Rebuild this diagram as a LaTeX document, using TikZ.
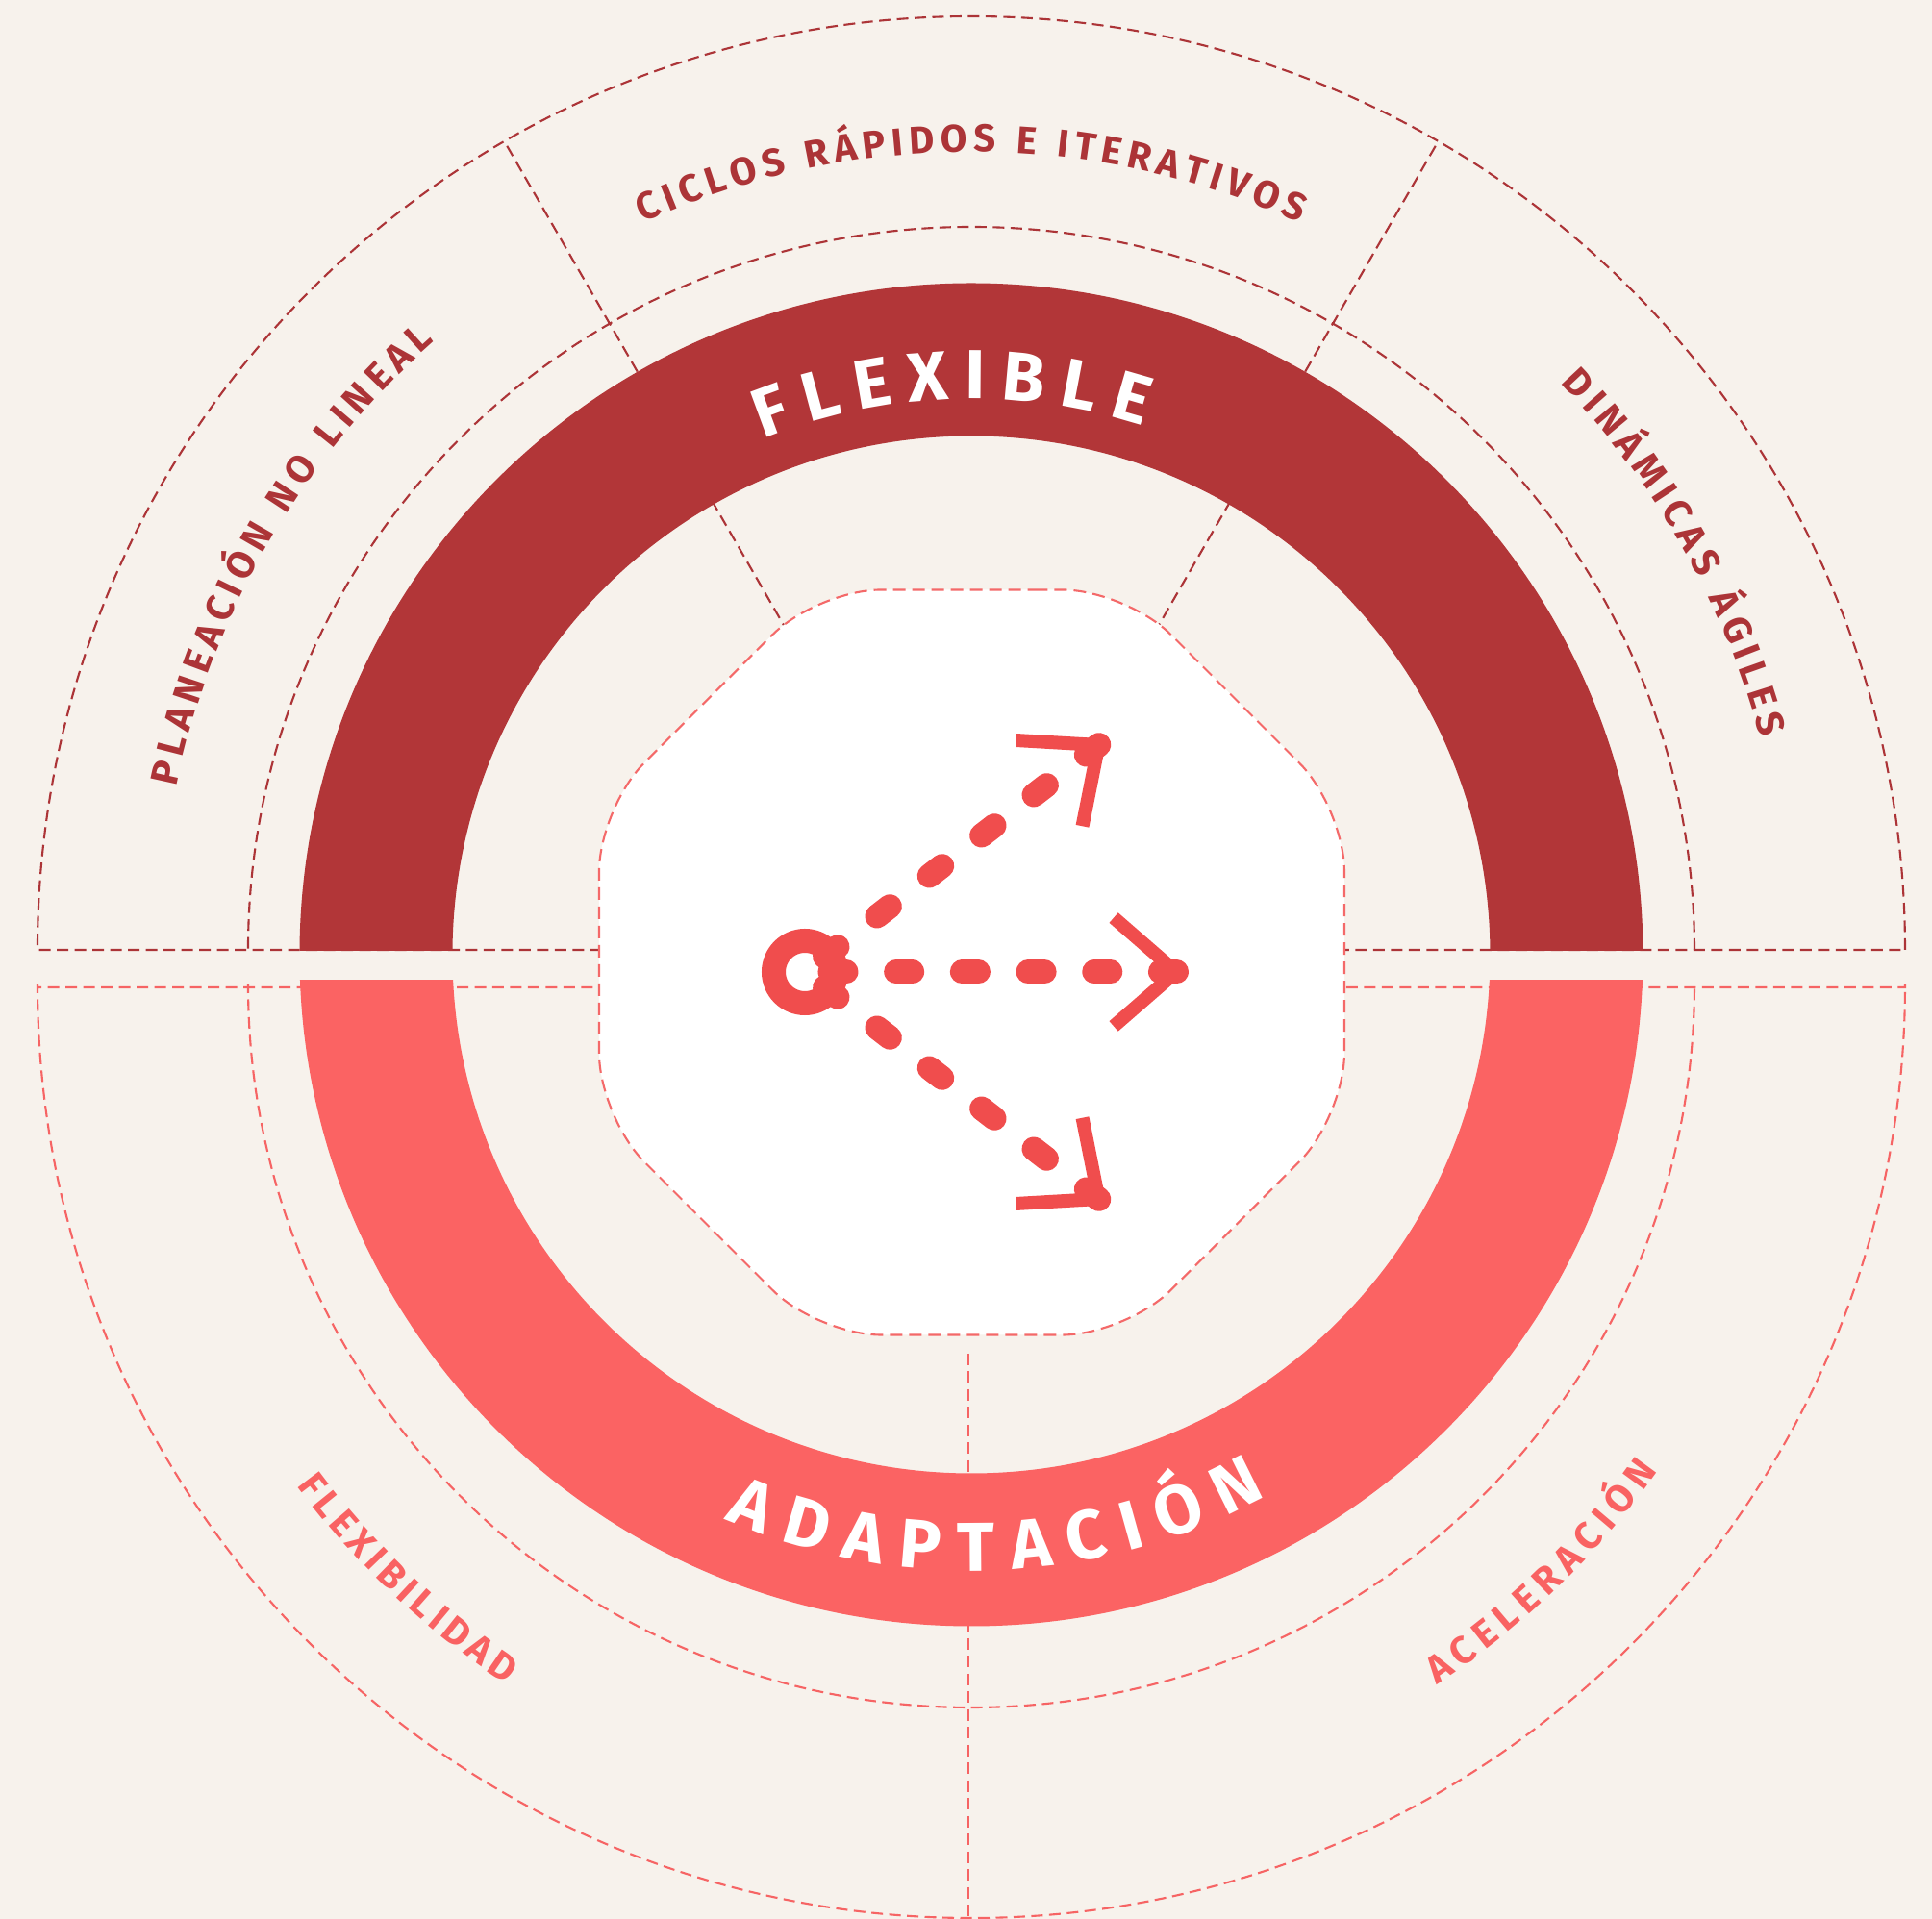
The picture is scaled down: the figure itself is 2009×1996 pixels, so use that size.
\documentclass[tikz,border=0pt]{standalone}
\usepackage{fontspec}
\newfontfamily\fsans{Fira Sans}
\usetikzlibrary{decorations.text,calc}
\definecolor{bgc}{RGB}{247,242,236}
\definecolor{darkr}{RGB}{178,54,56}
\definecolor{coral}{RGB}{251,99,99}
\definecolor{iconc}{RGB}{240,77,77}
\definecolor{dlin}{RGB}{172,52,55}
\definecolor{clin}{RGB}{246,100,100}
\definecolor{olin}{RGB}{244,105,105}
\definecolor{dlab}{RGB}{172,52,55}
\definecolor{clab}{RGB}{249,98,98}
\newcommand\bigfnt{\fsans\bfseries\fontsize{20.5pt}{24pt}\selectfont}
\newcommand\labfnt{\fsans\bfseries\fontsize{11.4pt}{13pt}\selectfont}
\begin{document}
\begin{tikzpicture}[x=0.1mm,y=0.1mm,
  thind/.style={draw=dlin, line width=0.6pt, dash pattern=on 1.2mm off 0.65mm},
  thinc/.style={draw=clin, line width=0.6pt, dash pattern=on 1.2mm off 0.65mm},
  octo/.style={draw=olin, fill=white, line width=0.6pt, dash pattern=on 1.3mm off 0.7mm, rounded corners=6.6mm},
  idash/.style={draw=iconc, line width=2.5mm, line cap=round, dash pattern=on 1.7mm off 5.17mm},
  chev/.style={draw=iconc, line width=1.4mm, line cap=butt, line join=miter},
  bigtxt/.style={decorate, decoration={text along path, text align=fit to path, text color=white, text={|\bigfnt|#1}}},
  labd/.style={decorate, decoration={text along path, text align=fit to path, text color=dlab, text={|\labfnt|#1}}},
  labc/.style={decorate, decoration={text along path, text align=fit to path, text color=clab, text={|\labfnt|#1}}}
]
% background and bounding box
\fill[bgc] (-1010,-1008) rectangle (999,988);
\useasboundingbox (-1010,-1008) rectangle (999,988);

% thin dashed guides, top half
\draw[thind] (971,0) arc[start angle=0,end angle=180,radius=971] -- cycle;
\draw[thind] (752,0) arc[start angle=0,end angle=180,radius=752];
\draw[thind] (60:380) -- (60:971);
\draw[thind] (120:380) -- (120:971);

% thin dashed guides, bottom half
\draw[thinc] (-971,-39) -- (-971,-36) arc[start angle=180,end angle=360,radius=971] -- (971,-39) -- cycle;
\draw[thinc] (-752,-39) -- (-752,-36) arc[start angle=180,end angle=360,radius=752] -- (752,-39);
\draw[thinc] (-3,-420) -- (-3,-1007);

% bands
\begin{scope}
  \clip (-1000,-1) rectangle (1000,990);
  \fill[darkr,even odd rule] (0,-5) circle[radius=698.5] (0,-5) circle[radius=539.5];
\end{scope}
\begin{scope}
  \clip (-1000,-32) rectangle (1000,-1008);
  \fill[coral,even odd rule] (0,-5) circle[radius=698.5] (0,-5) circle[radius=539.5];
\end{scope}

% octagon
\draw[octo] (0.5,374.5) -- (161,374.5) -- (388,147.5) -- (388,-173.5) -- (161,-400.5)
  -- (-160,-400.5) -- (-387,-173.5) -- (-387,147.5) -- (-160,374.5) -- cycle;

% icon
\coordinate (rc) at (-173,-23);
\draw[draw=iconc, line width=2.5mm] (rc) circle[radius=32.5];
\foreach \a in {37.7,0,-37.7} {
  \draw[idash] ($(rc)+(\a:26)$) -- ($(rc)+(\a:386.5)$);
  \draw[chev] ($(rc)+(\a:386)+(\a+139:86)$) -- ($(rc)+(\a:386)$) -- ($(rc)+(\a:386)+(\a-139:86)$);
}

% band texts
\path[bigtxt={FLEXIBLE}] (0,-5) ++(112:578) arc[start angle=112,end angle=72,radius=578];
\path[bigtxt={ADAPTACIÓN}] (0,-5) ++(246.4:641) arc[start angle=246.4,end angle=298.6,radius=641];

% outer labels
\path[labd={CICLOS RÁPIDOS E ITERATIVOS}] (0,0) ++(114.3:830) arc[start angle=114.3,end angle=65.7,radius=830];
\path[labd={PLANEACIÓN NO LINEAL}] (0,0) ++(168.4:844) arc[start angle=168.4,end angle=131.4,radius=844];
\path[labd={DINÁMICAS ÁGILES}] (0,0) ++(43.9:850) arc[start angle=43.9,end angle=15,radius=850];
\path[labc={FLEXIBILIDAD}] (0,-36) ++(216.6:874) arc[start angle=216.6,end angle=236.4,radius=874];
\path[labc={ACELERACIÓN}] (0,-36) ++(303.6:875) arc[start angle=303.6,end angle=324.7,radius=875];
\end{tikzpicture}
\end{document}
